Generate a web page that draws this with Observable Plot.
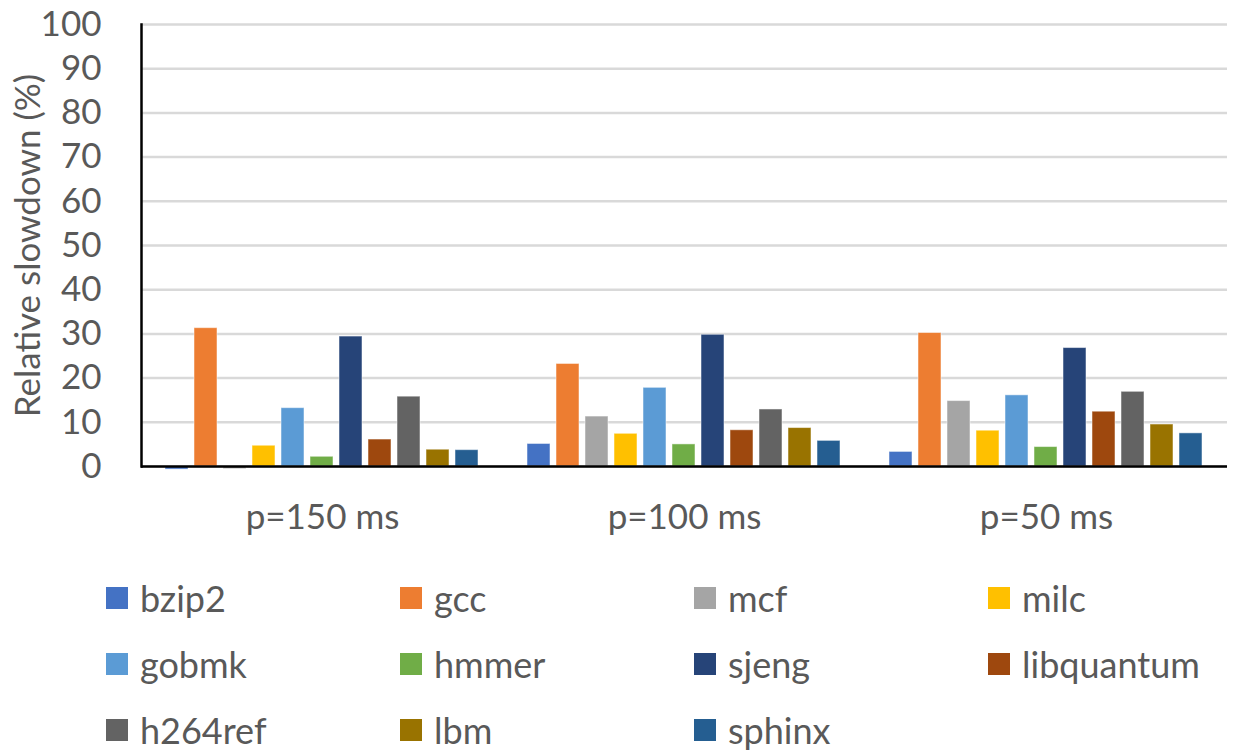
<!DOCTYPE html>
<html>
<head>
<meta charset="utf-8">
<script src="https://cdn.jsdelivr.net/npm/d3@7"></script>
<script src="https://cdn.jsdelivr.net/npm/@observablehq/plot@0.6"></script>
<style>
  html, body { margin: 0; padding: 0; background: #fff; }
  body { width: 1233px; height: 755px; overflow: hidden; font-family: Lato, "Open Sans", sans-serif; }
  #legend {
    display: grid;
    grid-template-columns: 294px 294px 294px auto;
    margin-left: 106px;
    margin-top: 15px;
    row-gap: 0;
  }
  .item { display: flex; align-items: center; height: 66px; font-size: 36px; color: #595959; }
  .sw { width: 22px; height: 22px; margin-right: 12px; flex: none; }
</style>
</head>
<body>
<div id="chart"></div>
<div id="legend"></div>
<script>
const groups = ["p=150 ms", "p=100 ms", "p=50 ms"];
const benchmarks = ["bzip2", "gcc", "mcf", "milc", "gobmk", "hmmer", "sjeng", "libquantum", "h264ref", "lbm", "sphinx"];
const colors = ["#4472C4", "#ED7D31", "#A5A5A5", "#FFC000", "#5B9BD5", "#70AD47", "#264478", "#9E480E", "#636363", "#997300", "#255E91"];
const p150 = [-0.7, 31.3, -0.6, 4.7, 13.2, 2.2, 29.4, 6.1, 15.8, 3.8, 3.7];
const p100 = [5.1, 23.2, 11.3, 7.4, 17.8, 5.0, 29.8, 8.2, 12.9, 8.7, 5.8];
const p50  = [3.3, 30.2, 14.8, 8.1, 16.1, 4.4, 26.8, 12.4, 16.9, 9.5, 7.5];
const yTicks = [0, 10, 20, 30, 40, 50, 60, 70, 80, 90, 100];

const seriesByGroup = [p150, p100, p50];
const data = groups.flatMap((g, gi) =>
  benchmarks.map((b, bi) => ({group: g, bench: b, value: seriesByGroup[gi][bi]}))
);

const chart = Plot.plot({
  width: 1233,
  height: 550,
  marginTop: 24,
  marginBottom: 84,
  marginLeft: 140,
  marginRight: 5,
  style: {fontFamily: "Lato, 'Open Sans', sans-serif", fontSize: "35px", color: "#595959", background: "#fff"},
  fx: {domain: groups, padding: 0, label: null, axis: "bottom", tickSize: 0, tickPadding: 38, fontSize: "35px"},
  x: {domain: benchmarks, axis: null, paddingInner: 0.2, paddingOuter: 0.84},
  y: {domain: [0, 100], ticks: yTicks, label: "Relative slowdown (%)", labelAnchor: "center", labelArrow: "none", labelOffset: 126, tickSize: 0, tickPadding: 40},
  color: {domain: benchmarks, range: colors},
  marks: [
    Plot.gridY(yTicks, {stroke: "#d9d9d9", strokeOpacity: 1, strokeWidth: 2.5}),
    Plot.barY(data, {fx: "group", x: "bench", y: "value", fill: "bench", stroke: "#ffffff", strokeOpacity: 0.5, strokeWidth: 1}),
    Plot.ruleY([0], {stroke: "#000", strokeWidth: 2.5}),
    Plot.frame({anchor: "left", facetAnchor: "left", stroke: "#000", strokeWidth: 2.5})
  ]
});
document.getElementById("chart").appendChild(chart);

const legend = document.getElementById("legend");
benchmarks.forEach((b, i) => {
  const item = document.createElement("div");
  item.className = "item";
  const sw = document.createElement("span");
  sw.className = "sw";
  sw.style.background = colors[i];
  const t = document.createElement("span");
  t.textContent = b;
  item.appendChild(sw);
  item.appendChild(t);
  legend.appendChild(item);
});
</script>
</body>
</html>
